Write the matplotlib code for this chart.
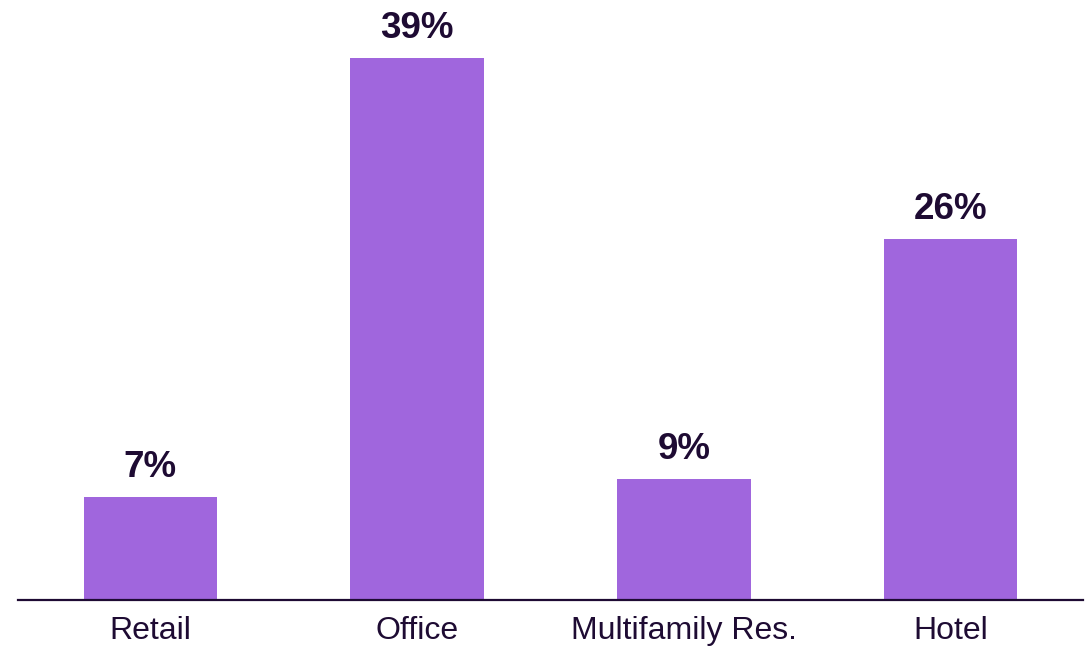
import matplotlib
matplotlib.use("Agg")
import matplotlib.pyplot as plt

categories = ["Retail", "Office", "Multifamily Res.", "Hotel"]
values = [7.35, 39.0, 8.65, 25.95]
value_labels = ["7%", "39%", "9%", "26%"]

plt.rcParams['font.family'] = ['Liberation Sans', 'DejaVu Sans']
bar_color = "#A066DD"
text_color = "#1E0B33"

fig = plt.figure(figsize=(10.91, 6.47), dpi=100)
ax = fig.add_axes([18/1091, 1 - 599.5/647, (1083-18)/1091, 599.5/647])

x = list(range(len(categories)))
bars = ax.bar(x, values, width=0.5, color=bar_color)
for xi, v, lab in zip(x, values, value_labels):
    ax.annotate(lab, (xi, v), xytext=(0, 9), textcoords="offset points",
                ha="center", va="bottom", fontsize=26.5, fontweight="bold",
                color=text_color)

ax.set_xlim(-0.496, 3.496)
ax.set_ylim(0, 43.18)
ax.set_xticks(x)
ax.set_xticklabels(categories, fontsize=23, color=text_color)
ax.tick_params(axis="x", length=0, pad=12)
ax.set_yticks([])
for s in ["top", "right", "left"]:
    ax.spines[s].set_visible(False)
ax.spines["bottom"].set_color(text_color)
ax.spines["bottom"].set_linewidth(1.6)

fig.savefig("out.png", dpi=100)
